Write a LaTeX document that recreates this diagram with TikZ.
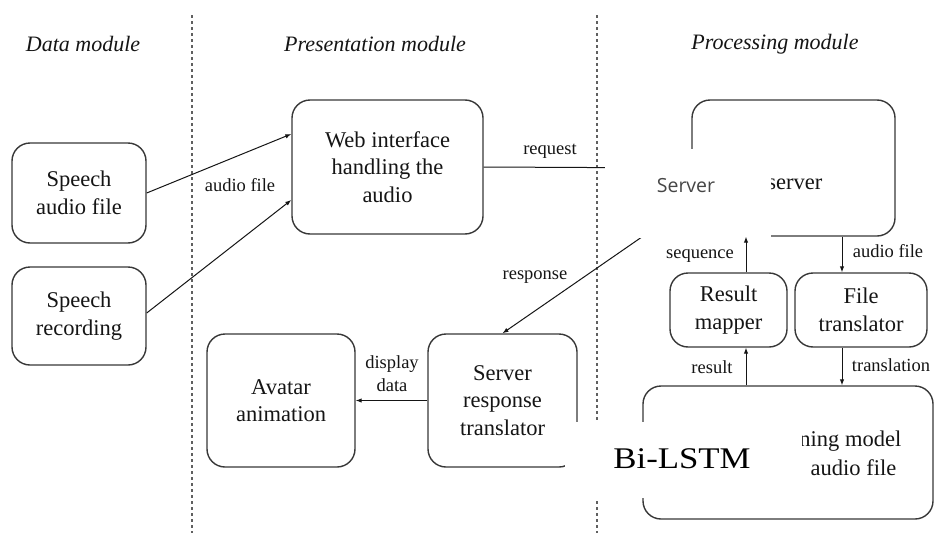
\documentclass[tikz,border=0pt]{standalone}
\usepackage{fontspec}
\setmainfont{Liberation Serif}
\newfontfamily\boxserif{Liberation Serif}
\newfontfamily\uisans{Open Sans}
\usetikzlibrary{arrows.meta,calc}

\definecolor{ink}{HTML}{151515}
\definecolor{edge}{HTML}{383838}
\definecolor{sep}{HTML}{606060}

\tikzset{
  box/.style={draw=edge, line width=1.4pt, rounded corners=18pt, align=center,
    inner sep=0pt, text=ink, font=\boxserif\fontsize{22.5}{27.5}\selectfont},
  lbl/.style={text=ink, align=center, inner sep=0pt, font=\boxserif\fontsize{18.5}{23}\selectfont},
  title/.style={text=ink, inner sep=0pt, font=\boxserif\fontsize{22}{26}\selectfont\itshape},
  link/.style={draw=ink, line width=1pt},
  flow/.style={link, -{Latex[length=6pt,width=4.5pt]}},
  divider/.style={draw=sep, line width=1.5pt, dash pattern=on 3pt off 3pt},
  patch/.style={fill=white, draw=none}
}

\begin{document}
\begin{tikzpicture}[x=1pt,y=-1pt]
\useasboundingbox[fill=white] (0,0) rectangle (935,533);

% module dividers
\draw[divider] (192,15) -- (192,533);
\draw[divider] (597,15) -- (597,533);

% module titles
\node[title] (tdata) at (83,44) {Data module};
\node[title] (tpres) at (375,44) {Presentation module};
\node[title] (tproc) at (775,44) {Processing module};

% data module
\node[box, minimum width=134pt, minimum height=100pt] (sa) at (79,193) {Speech\\audio file};
\node[box, minimum width=134pt, minimum height=98pt] (sr) at (79,316) {Speech\\recording};

% presentation module
\node[box, minimum width=191pt, minimum height=134pt] (web) at (387.5,167) {Web interface\\handling the\\audio};
\node[box, minimum width=148pt, minimum height=133pt] (av) at (281,400.5) {Avatar\\animation};
\node[box, minimum width=149pt, minimum height=133pt] (srt) at (502.5,400.5) {Server\\response\\translator};

% processing module
\node[box, minimum width=203pt, minimum height=136pt] (ws) at (793.5,168) {};
\node[box, draw=none, anchor=east] (wst) at (823,184) {server};
\node[box, minimum width=117pt, minimum height=74pt] (rm) at (728.5,310) {Result\\mapper};
\node[box, minimum width=132pt, minimum height=74pt] (ft) at (861,310) {File\\translator};
\node[box, minimum width=290pt, minimum height=133pt] (ml) at (788,452.5) {};
\node[box, draw=none, anchor=east] (mlt1) at (902,441) {ning model};
\node[box, draw=none, anchor=east] (mlt2) at (897,468) {audio file};

% connectors passing under the overlays
\draw[link] (web.east) -- (ws.west);
\draw[flow] ([xshift=-49pt]ws.south west) -- (srt.north);

% overlays
\fill[patch] (605,149) rectangle (771,237.5);
\node[text={rgb,255:red,70;green,70;blue,70}, inner sep=0pt, font=\uisans\fontsize{19.5}{23}\selectfont] (srvtag) at (686,186) {Server};
\fill[patch] (565,422) rectangle (802,498);
\node[text=black, inner sep=0pt, font=\boxserif\fontsize{30}{34}\selectfont] (lstm) at (682,459) {\scalebox{1.16}[1]{Bi-LSTM}};

% data flow
\draw[flow] (sa.east) -- ([yshift=33pt]web.west);
\draw[flow] ([yshift=3pt]sr.east) -- ([yshift=-33pt]web.west);
\draw[flow] (srt.west) -- (av.east);
\draw[flow] ([xshift=17.5pt]rm.north) -- ([xshift=17.5pt]rm.north |- ws.south);
\draw[flow] ([xshift=-19pt]ft.north |- ws.south) -- ([xshift=-19pt]ft.north);
\draw[flow] ([xshift=17.5pt]rm.south |- ml.north) -- ([xshift=17.5pt]rm.south);
\draw[flow] ([xshift=-19pt]ft.south) -- ([xshift=-19pt]ft.south |- ml.north);

% connector labels
\node[lbl] (laudio) at (240,185) {audio file};
\node[lbl] (lreq) at (550,151) {request};
\node[lbl] (lresp) at (535,277) {response};
\node[lbl] (ldisp) at (392,374) {display\\data};
\node[lbl] (lseq) at (700,256) {sequence};
\node[lbl] (laud2) at (888,251) {audio file};
\node[lbl] (lres) at (712,367) {result};
\node[lbl] (ltrans) at (891,365) {translation};
\end{tikzpicture}
\end{document}
